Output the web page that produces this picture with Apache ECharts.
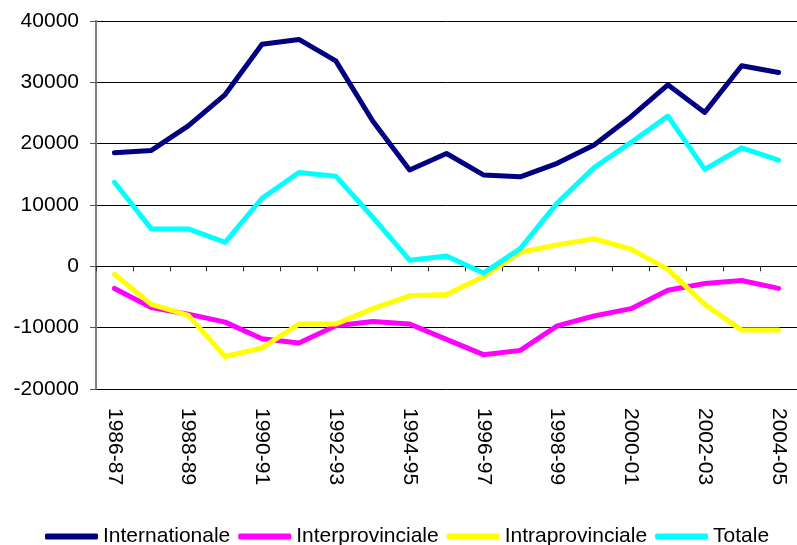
<!DOCTYPE html>
<html>
<head>
<meta charset="utf-8">
<script src="https://cdn.jsdelivr.net/npm/echarts@6/dist/echarts.min.js"></script>
<style>
  html, body { margin: 0; padding: 0; background: #fff; }
  #chart { width: 797px; height: 545px; }
</style>
</head>
<body>
<div id="chart"></div>
<script>
// anni
const years = ['1986-87', '1987-88', '1988-89', '1989-90', '1990-91', '1991-92', '1992-93',
  '1993-94', '1994-95', '1995-96', '1996-97', '1997-98', '1998-99', '1999-00', '2000-01',
  '2001-02', '2002-03', '2003-04', '2004-05'];

const internationale = [18500, 18900, 22900, 28000, 36200, 37000, 33500, 23700, 15700, 18400,
  14900, 14600, 16800, 19800, 24400, 29600, 25100, 32700, 31600];
const interprovinciale = [-3600, -6700, -7800, -9100, -11800, -12500, -9700, -9000, -9400, -11900,
  -14400, -13700, -9700, -8100, -6900, -3900, -2800, -2300, -3600];
const intraprovinciale = [-1300, -6200, -8000, -14700, -13300, -9400, -9400, -6900, -4800, -4600,
  -1700, 2300, 3500, 4500, 2800, -500, -6200, -10400, -10400];
const totale = [13700, 6100, 6100, 3900, 11100, 15300, 14700, 8000, 1000, 1700,
  -1100, 2900, 10300, 16100, 20200, 24500, 15800, 19300, 17300];

const yMin = -20000, yMax = 40000, yStep = 10000;

const font = 'Liberation Sans, Arial, sans-serif';

function lineSeries(name, data, color) {
  return {
    name: name,
    type: 'line',
    data: data,
    symbol: 'none',
    color: color,
    lineStyle: { width: 5, color: color, cap: 'round', join: 'round' }
  };
}

const chart = echarts.init(document.getElementById('chart'));
chart.setOption({
  animation: false,
  backgroundColor: '#fff',
  textStyle: { fontFamily: font },
  grid: { left: 96, top: 21, bottom: 156, right: -13 },
  legend: {
    left: 45,
    top: 526,
    padding: 0,
    icon: 'roundRect',
    itemWidth: 53,
    itemHeight: 6,
    itemGap: 8,
    textStyle: { fontSize: 21, color: '#000', fontFamily: font }
  },
  xAxis: [
    {
      // asse sullo zero: linea e tacche
      type: 'category',
      data: years,
      boundaryGap: true,
      axisLine: { onZero: true, lineStyle: { color: '#000', width: 1 } },
      axisTick: { show: true, interval: 0, length: 5, lineStyle: { color: '#333' } },
      axisLabel: { show: false },
      splitLine: { show: false }
    },
    {
      // etichette in basso
      type: 'category',
      data: years,
      position: 'bottom',
      boundaryGap: true,
      axisLine: { show: false, onZero: false },
      axisTick: { show: false },
      axisLabel: {
        interval: 1,
        rotate: -90,
        margin: 19,
        fontSize: 21,
        color: '#000',
        fontFamily: font
      },
      splitLine: { show: false }
    }
  ],
  yAxis: {
    type: 'value',
    min: yMin,
    max: yMax,
    interval: yStep,
    axisLine: { show: true, lineStyle: { color: '#808080', width: 2 } },
    axisTick: { show: true, length: 6, lineStyle: { color: '#555' } },
    axisLabel: {
      fontSize: 21, color: '#000', margin: 17, fontFamily: font,
      formatter: (v) => String(v)
    },
    splitLine: { show: true, lineStyle: { color: '#000', width: 1 } }
  },
  series: [
    lineSeries('Internationale', internationale, '#000080'),
    lineSeries('Interprovinciale', interprovinciale, '#ff00ff'),
    lineSeries('Intraprovinciale', intraprovinciale, '#ffff00'),
    lineSeries('Totale', totale, '#00ffff')
  ]
});
</script>
</body>
</html>
